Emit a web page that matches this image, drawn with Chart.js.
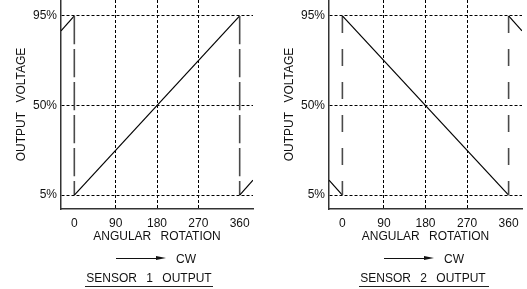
<!DOCTYPE html>
<html><head><meta charset="utf-8">
<script src="https://cdn.jsdelivr.net/npm/chart.js@4.4.1/dist/chart.umd.min.js"></script>
<style>
html,body{margin:0;padding:0;background:#fff;}
body{width:527px;height:289px;position:relative;overflow:hidden;font-family:"Liberation Sans",Arial,sans-serif;color:#111;}
canvas{position:absolute;top:0;}
.t{position:absolute;font-size:12px;line-height:14px;white-space:nowrap;word-spacing:6px;transform:translate(-50%,-50%);}
.tl{position:absolute;font-size:12px;line-height:14px;white-space:nowrap;transform:translate(0,-50%);}
.line{position:absolute;background:#111;height:1.3px;}
.head{position:absolute;width:0;height:0;border-left:10px solid #111;border-top:2.5px solid transparent;border-bottom:2.5px solid transparent;}
.ul{position:absolute;height:1.3px;background:#222;}
</style></head>
<body>
<canvas id="c1" width="268" height="289" style="left:0"></canvas>
<canvas id="c2" width="259" height="289" style="left:268px"></canvas>

<div class="line" style="left:116px;top:258px;width:42px"></div>
<div class="head" style="left:156px;top:256px"></div>
<div class="tl" style="left:176px;top:259px">CW</div>
<div class="t" id="s1" style="left:149px;top:278px"></div>
<div class="ul" style="left:85px;top:286px;width:128px"></div>

<div class="line" style="left:384px;top:258px;width:42px"></div>
<div class="head" style="left:424px;top:256px"></div>
<div class="tl" style="left:444px;top:259px">CW</div>
<div class="t" id="s2" style="left:423px;top:278px"></div>
<div class="ul" style="left:359px;top:286px;width:130px"></div>

<script>
const angleTicks = [0, 90, 180, 270, 360];
const angleTickLabels = ['0', '90', '180', '270', '360'];
const voltageTicks = [5, 50, 95];
const voltageTickLabels = ['5%', '50%', '95%'];
const sensor1Angle = [-29, 0, 0, 360, 360, 389];
const sensor1Voltage = [87.5, 95, 5, 95, 5, 12.5];
const sensor2Angle = [-29, 0, 0, 360, 360, 389];
const sensor2Voltage = [12.5, 5, 95, 5, 95, 87.5];
const panelTitles = ['SENSOR 1 OUTPUT', 'SENSOR 2 OUTPUT'];
const xTitle = 'ANGULAR ROTATION';
const yTitle = 'OUTPUT VOLTAGE';

document.getElementById('s1').textContent = panelTitles[0];
document.getElementById('s2').textContent = panelTitles[1];

const FONT = {family: '"Liberation Sans", Arial, sans-serif', size: 12};
const TXT = '#111';

function zeroPad(s) { s.paddingLeft = 0; s.paddingRight = 0; s.paddingTop = 0; s.paddingBottom = 0; }
function isDrop(c) { return c.p0.parsed.x === c.p1.parsed.x; }

const wordSpacingPlugin = {
  id: 'wordSpacing',
  beforeDraw(chart) { try { chart.ctx.wordSpacing = '6px'; } catch (e) {} }
};

function makeChart(id, xs, ys, padRight) {
  return new Chart(document.getElementById(id), {
    type: 'line',
    data: {
      datasets: [{
        data: xs.map((x, i) => ({x: x, y: ys[i]})),
        borderColor: '#000',
        borderWidth: 1.2,
        pointRadius: 0,
        tension: 0,
        fill: false,
        segment: {
          borderColor: c => isDrop(c) ? '#4a4a4a' : undefined,
          borderWidth: c => isDrop(c) ? 1.6 : undefined,
          borderDash: c => isDrop(c) ? [17, 16] : undefined,
          borderDashOffset: c => {
            if (!isDrop(c)) return undefined;
            if (c.p1.y < c.p0.y) {
              const L = c.p0.y - c.p1.y;
              return (((17 - L) % 33) + 33) % 33;
            }
            return 0;
          }
        }
      }]
    },
    plugins: [wordSpacingPlugin],
    options: {
      responsive: false,
      animation: false,
      events: [],
      layout: {padding: {left: 14, top: 0, right: padRight, bottom: 45}},
      plugins: {legend: {display: false}, tooltip: {enabled: false}},
      scales: {
        x: {
          type: 'linear', min: -29, max: 389,
          afterBuildTicks: s => { s.ticks = angleTicks.map(v => ({value: v})); },
          afterFit: s => { s.height = 35; zeroPad(s); },
          ticks: {autoSkip: false, maxRotation: 0, padding: 7, color: TXT, font: FONT,
            callback: v => angleTickLabels[angleTicks.indexOf(v)]},
          grid: {drawTicks: false, lineWidth: 1,
            color: c => (c.tick && (c.tick.value === 0 || c.tick.value === 360)) ? 'rgba(0,0,0,0)' : '#000'},
          border: {display: true, color: '#333', width: 1.5, dash: [3, 2]},
          title: {display: true, text: xTitle, color: TXT, font: FONT, padding: 0}
        },
        y: {
          type: 'linear', min: -2, max: 103,
          afterBuildTicks: s => { s.ticks = voltageTicks.map(v => ({value: v})); },
          afterFit: s => { s.width = 47; zeroPad(s); },
          ticks: {padding: 4, color: TXT, font: FONT,
            callback: v => voltageTickLabels[voltageTicks.indexOf(v)]},
          grid: {drawTicks: false, lineWidth: 1, color: '#000'},
          border: {display: true, color: '#333', width: 1.5, dash: [3, 2]},
          title: {display: true, text: yTitle, color: TXT, font: FONT, padding: 0}
        }
      }
    }
  });
}

makeChart('c1', sensor1Angle, sensor1Voltage, 15);
makeChart('c2', sensor2Angle, sensor2Voltage, 5);
</script>
</body></html>
